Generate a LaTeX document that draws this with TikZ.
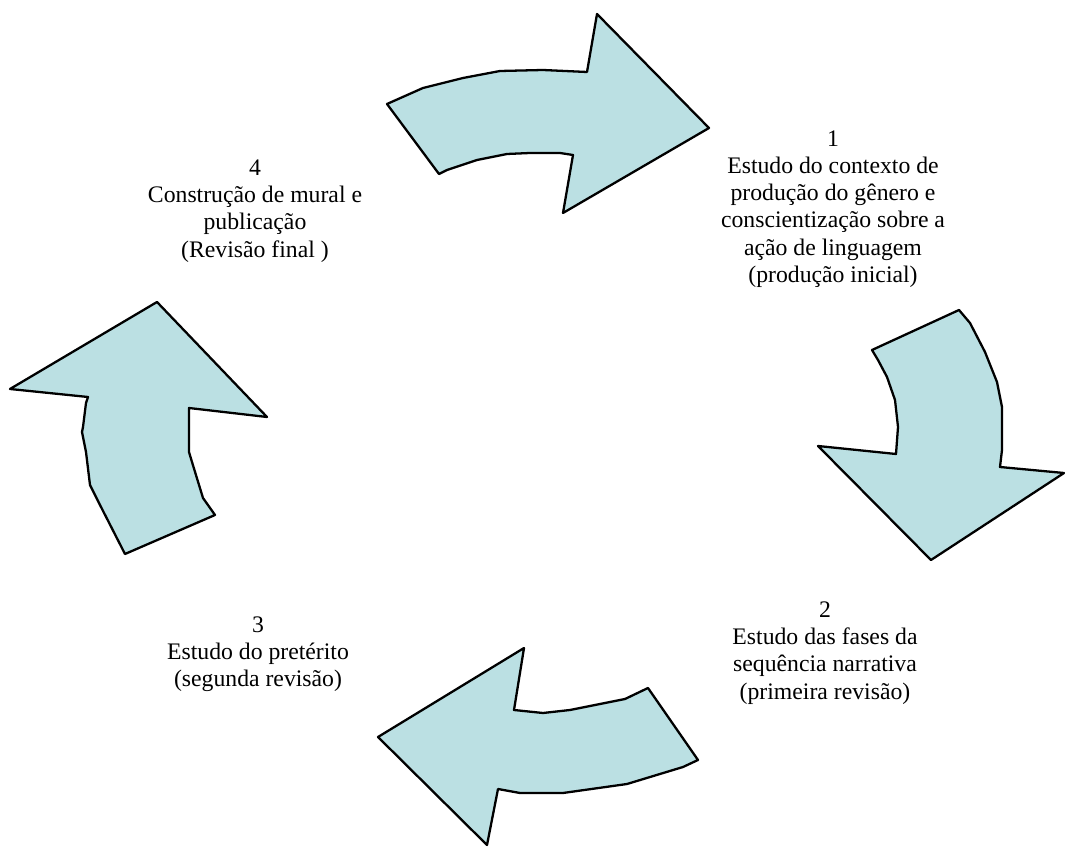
\documentclass[tikz,border=0pt]{standalone}
\usepackage{fontspec}
\setmainfont{Liberation Serif}
\definecolor{setaAzul}{RGB}{187,224,227}
\begin{document}
\begin{tikzpicture}[x=0.02cm, y=-0.02cm,
        seta/.style={fill=setaAzul, draw=black, line width=1.3pt, line join=round},
        etapa/.style={align=center, font=\fontsize{13.5}{15.5}\selectfont}]
    \useasboundingbox (0, 0) rectangle (1065, 847);
    % setas do ciclo
    \draw[seta] (387, 104) -- (423, 88) -- (463, 78) -- (500, 71) -- (543, 70) -- (587, 72)
        -- (597, 14) -- (709, 128) -- (563, 213) -- (573, 155) -- (560, 153) -- (530, 153)
        -- (507, 154) -- (477, 160) -- (447, 170) -- (439, 174) -- cycle;
    \draw[seta] (872, 350) -- (959, 310) -- (970, 323) -- (985, 352) -- (997, 382) -- (1002, 407)
        -- (1002, 450) -- (1000, 467) -- (1064, 473) -- (931, 560) -- (818, 446) -- (896, 454)
        -- (898, 427) -- (895, 400) -- (887, 377) -- (878, 360) -- cycle;
    \draw[seta] (648, 688) -- (698, 760) -- (683, 767) -- (627, 784) -- (563, 793) -- (520, 793)
        -- (498, 789) -- (487, 845) -- (378, 737) -- (524, 648) -- (514, 710) -- (543, 713)
        -- (570, 710) -- (625, 699) -- cycle;
    \draw[seta] (125, 554) -- (215, 515) -- (203, 498) -- (192, 462) -- (189, 452) -- (189, 408)
        -- (267, 417) -- (157, 302) -- (10, 389) -- (88, 397) -- (86, 403) -- (83, 427)
        -- (82, 432) -- (86, 452) -- (90, 485) -- (100, 505) -- cycle;
    % textos das etapas
    \node[etapa] (etapa1) at (833, 209) {1\\Estudo do contexto de\\produção do gênero e\\conscientização sobre a\\ação de linguagem\\(produção inicial)};
    \node[etapa] (etapa2) at (825, 653) {2\\Estudo das fases da\\sequência narrativa\\(primeira revisão)};
    \node[etapa] (etapa3) at (258, 654) {3\\Estudo do pretérito\\(segunda revisão)};
    \node[etapa] (etapa4) at (255, 211) {4\\Construção de mural e\\publicação\\(Revisão final )};
\end{tikzpicture}
\end{document}
